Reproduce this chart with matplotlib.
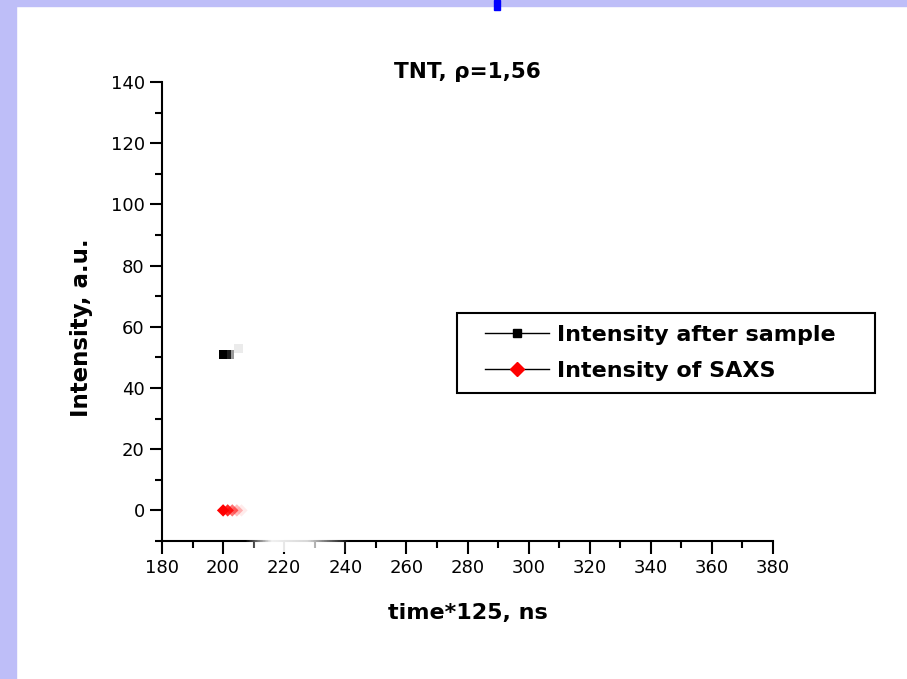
import numpy as np
import matplotlib.pyplot as plt
from matplotlib.lines import Line2D
from matplotlib.patches import Rectangle
from matplotlib.ticker import MultipleLocator

plt.rcParams['font.family'] = ['DejaVu Sans']

# data (one animation frame: points fade out to the right)
after_x = [200, 201, 202, 205]
after_y = [51, 51, 51, 53]
saxs_x = [200, 201.5, 203, 204.5, 206]
saxs_y = [0, 0, 0, 0, 0]
after_alpha = [1.0, 0.8, 0.4, 0.08]
saxs_alpha = [1.0, 0.85, 0.55, 0.25, 0.08]

title = 'TNT, ρ=1,56'
xlabel = 'time*125, ns'
ylabel = 'Intensity, a.u.'
labels = ['Intensity after sample', 'Intensity of SAXS']

W, H = 907, 679
fig = plt.figure(figsize=(W/100, H/100), dpi=100)

# slide frame
lav = '#bebef8'
fig.patches.append(Rectangle((0, 0), 16/W, 1, transform=fig.transFigure, color=lav, zorder=0))
fig.patches.append(Rectangle((0, 1-6/H), 1, 6/H, transform=fig.transFigure, color=lav, zorder=0))
fig.patches.append(Rectangle((494/W, 1-10/H), 6/W, 10/H, transform=fig.transFigure, color='#0000ff', zorder=1))

ax = fig.add_axes([162/W, 1-541/H, 611/W, 459/H])

blk = np.zeros((len(after_x), 4)); blk[:, 3] = after_alpha
red = np.zeros((len(saxs_x), 4)); red[:, 0] = 1; red[:, 3] = saxs_alpha
ax.scatter(after_x, after_y, marker='s', s=40, c=blk, linewidths=0)
ax.scatter(saxs_x, saxs_y, marker='D', s=40, c=red, linewidths=0)

# animation wipe partly hiding the bottom axis
wipe = np.ones((1, 40, 4))
wipe[0, :, 3] = np.interp(np.linspace(0, 1, 40), [0, 0.25, 0.6, 1], [0, 0.95, 0.85, 0])
ax.imshow(wipe, extent=(207, 242, -13.5, -8.5), aspect='auto', zorder=3, clip_on=False)

ax.set_xlim(180, 380)
ax.set_ylim(-10, 140)
ax.xaxis.set_major_locator(MultipleLocator(20))
ax.xaxis.set_minor_locator(MultipleLocator(10))
ax.yaxis.set_major_locator(MultipleLocator(20))
ax.yaxis.set_minor_locator(MultipleLocator(10))
ax.spines['top'].set_visible(False)
ax.spines['right'].set_visible(False)
for s in ['left', 'bottom']:
    ax.spines[s].set_linewidth(1.5)
ax.tick_params(which='major', length=9, width=1.5, labelsize=13)
ax.tick_params(which='minor', length=5, width=1.5)
ax.tick_params(axis='x', pad=4)

ax.set_title(title, fontsize=15.5, fontweight='bold', pad=3)
ax.set_xlabel(xlabel, fontsize=16, fontweight='bold', labelpad=19)
ax.set_ylabel(ylabel, fontsize=16.5, fontweight='bold')
ax.yaxis.set_label_coords(-0.113, 0.464)

# legend: frame drawn separately to match the wide box
ax.add_patch(Rectangle((457/W, 1-393/H), 418/W, 80/H, transform=fig.transFigure,
                       facecolor='white', edgecolor='black', lw=1.5, zorder=3, clip_on=False))
handles = [Line2D([], [], color='black', lw=1, marker='s', markersize=6),
           Line2D([], [], color='black', lw=1, marker='D', markersize=7,
                  markerfacecolor='red', markeredgecolor='red')]
leg = ax.legend(handles, labels, loc='center left', bbox_to_anchor=(485/W, 1-353/H),
                bbox_transform=fig.transFigure, frameon=False, borderaxespad=0, borderpad=0,
                prop={'size': 16, 'weight': 'bold'},
                handlelength=2.9, handletextpad=0.35, labelspacing=0.72)
leg.set_zorder(5)

fig.savefig('out.png', dpi=100)
